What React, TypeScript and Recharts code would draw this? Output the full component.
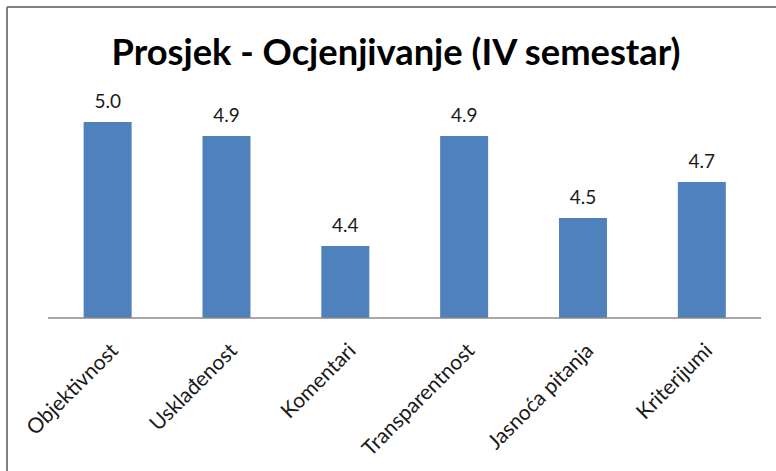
import { BarChart, Bar, XAxis, YAxis, LabelList } from 'recharts';

// (labels show one decimal)
const categories = ['Objektivnost', 'Usklađenost', 'Komentari', 'Transparentnost', 'Jasnoća pitanja', 'Kriterijumi'];
const averages = [4.98, 4.91, 4.36, 4.91, 4.5, 4.68];
const valueDomain: [number, number] = [4, 5.2];

const TITLE = 'Prosjek - Ocjenjivanje (IV semestar)';
const BAR_COLOR = '#4F81BD';
const FONT = 'Lato, "Open Sans", sans-serif';

const data = categories.map((name, i) => ({ name, value: averages[i] }));

function SlantTick({ x, y, payload }: { x?: number; y?: number; payload?: { value: string } }) {
  const ax = (x ?? 0) + 12;
  const ay = (y ?? 0) + 34;
  return (
    <text
      x={ax}
      y={ay}
      transform={`rotate(-45, ${ax}, ${ay})`}
      textAnchor="end"
      fontFamily={FONT}
      fontSize={21}
      fill="#1a1a1a"
    >
      {payload?.value}
    </text>
  );
}

export default function App() {
  return (
    <div style={{ position: 'absolute', left: 0, top: 0, width: 776, height: 471, background: '#fff' }}>
      <BarChart
        width={776}
        height={471}
        data={data}
        margin={{ top: 78, right: 15, bottom: 0, left: 48 }}
        barCategoryGap="30%"
      >
        <YAxis hide domain={valueDomain} allowDataOverflow />
        <XAxis
          dataKey="name"
          interval={0}
          height={153}
          tickLine={false}
          tickSize={0}
          tickMargin={0}
          axisLine={{ stroke: '#8a8a8a', strokeWidth: 1.5 }}
          tick={<SlantTick />}
        />
        <Bar dataKey="value" fill={BAR_COLOR} isAnimationActive={false}>
          <LabelList
            dataKey="value"
            position="top"
            offset={14}
            formatter={(v: any) => Number(v).toFixed(1)}
            style={{ fontFamily: FONT, fontSize: 19, fill: '#1a1a1a' }}
          />
        </Bar>
      </BarChart>

      {/* frame + title */}
      <svg
        width={776}
        height={471}
        style={{ position: 'absolute', left: 0, top: 0, pointerEvents: 'none' }}
      >
        <line x1={7} y1={7} x2={776} y2={7} stroke="#808080" strokeWidth={2} />
        <line x1={7} y1={7} x2={7} y2={471} stroke="#808080" strokeWidth={2} />
        <text
          x={396}
          y={65}
          textAnchor="middle"
          fontFamily={FONT}
          fontWeight={700}
          fontSize={36}
          textLength={569}
          lengthAdjust="spacingAndGlyphs"
          fill="#000"
        >
          {TITLE}
        </text>
      </svg>
    </div>
  );
}
